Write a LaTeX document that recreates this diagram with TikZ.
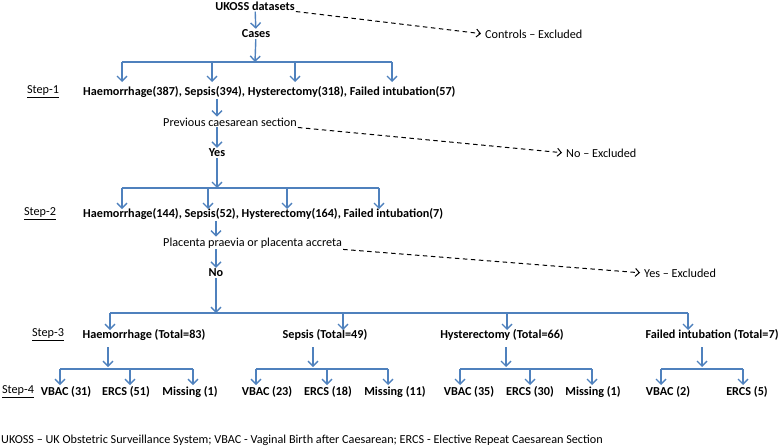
\documentclass[tikz,border=0pt]{standalone}
\usepackage{fontspec}
\setmainfont{Carlito}
\usetikzlibrary{arrows.meta}

\definecolor{flowblue}{RGB}{79,129,189}
\tikzset{
	txt/.style={inner sep=1pt, font=\fontsize{12.2}{14}\selectfont},
	bold/.style={inner sep=1pt, font=\fontsize{12.2}{14}\selectfont\bfseries},
	flow/.style={draw=flowblue, line width=1.4pt, -{Straight Barb[length=5pt,width=10pt]}},
	bar/.style={draw=flowblue, line width=1.4pt},
	excl/.style={draw=black, line width=1pt, dash pattern=on 4.5pt off 3.5pt, shorten >=3pt, -{Straight Barb[length=4pt,width=8pt]}}
}

\begin{document}
\begin{tikzpicture}[x=1pt,y=-1pt]
	\useasboundingbox (0,0) rectangle (782,447);
	
	% top of the chart
	\node[bold] (ukoss) at (255,6) {UKOSS datasets};
	\node[bold] (cases) at (256,34) {Cases};
	\node[txt,anchor=west] (controls) at (484,34) {Controls -- Excluded};
	\draw[flow] (ukoss) -- (cases);
	\draw[excl] (ukoss.south east) -- (controls.west);
	
	% step 1
	\node[txt] (step1) at (43,92) {\underline{Step-1}};
	\node[bold,anchor=west] (row1) at (82,92) {Haemorrhage(387), Sepsis(394), Hysterectomy(318), Failed intubation(57)};
	\coordinate (b1) at (255,62);
	\draw[flow] (cases) -- (b1);
	\draw[bar] (122,62) -- (392,62);
	\foreach \x in {122,212,295,392}
		\draw[flow] (\x,62) -- (\x,82);
	
	\node[txt,anchor=west] (prev) at (162,122) {Previous caesarean section};
	\node[bold] (yes) at (217,153) {Yes};
	\node[txt,anchor=west] (noex) at (565,153) {No -- Excluded};
	\draw[flow] (yes |- row1.south) -- (yes |- prev.north);
	\draw[flow] (yes |- prev.south) -- (yes);
	\draw[excl] (prev.south east) -- (noex.west);
	
	% step 2
	\node[txt] (step2) at (40,214) {\underline{Step-2}};
	\node[bold,anchor=west] (row2) at (82,214) {Haemorrhage(144), Sepsis(52), Hysterectomy(164), Failed intubation(7)};
	\coordinate (b2) at (217,188);
	\draw[flow] (yes) -- (b2);
	\draw[bar] (122,188) -- (379,188);
	\foreach \x in {122,208,287,379}
		\draw[flow] (\x,188) -- (\x,209);
	
	\node[txt,anchor=west] (place) at (162,243) {Placenta praevia or placenta accreta};
	\node[bold] (no) at (216,273) {No};
	\node[txt,anchor=west] (yesex) at (643,273) {Yes -- Excluded};
	\draw[flow] (no |- row2.south) -- (no |- place.north);
	\draw[flow] (no |- place.south) -- (no);
	\draw[excl] (place.south east) -- (yesex.west);
	
	% step 3
	\node[txt] (step3) at (48,335) {\underline{Step-3}};
	\node[bold] (haem) at (144,335) {Haemorrhage (Total=83)};
	\node[bold] (sepsis) at (325,335) {Sepsis (Total=49)};
	\node[bold] (hyst) at (502,335) {Hysterectomy (Total=66)};
	\node[bold] (failed) at (712,335) {Failed intubation (Total=7)};
	\coordinate (b3) at (216,313);
	\draw[flow] (no) -- (b3);
	\draw[bar] (110,313) -- (688,313);
	\foreach \x in {110,343,507,688}
		\draw[flow] (\x,313) -- (\x,330);
	
	% step 4
	\node[txt] (step4) at (18,392) {\underline{Step-4}};
	\node[bold] (hv) at (66,392) {VBAC (31)};
	\node[bold] (he) at (126,392) {ERCS (51)};
	\node[bold] (hm) at (190,392) {Missing (1)};
	\node[bold] (sv) at (267,392) {VBAC (23)};
	\node[bold] (se) at (328,392) {ERCS (18)};
	\node[bold] (sm) at (395,392) {Missing (11)};
	\node[bold] (yv) at (469,392) {VBAC (35)};
	\node[bold] (ye) at (530,392) {ERCS (30)};
	\node[bold] (ym) at (593,392) {Missing (1)};
	\node[bold] (fv) at (668,392) {VBAC (2)};
	\node[bold] (fe) at (747,392) {ERCS (5)};
	
	\draw[flow] (108,347) -- (108,367);
	\draw[bar] (60,369) -- (193,369);
	\foreach \x in {60,130,193}
		\draw[flow] (\x,369) -- (\x,385);
	
	\draw[flow] (313,347) -- (313,367);
	\draw[bar] (256,369) -- (388,369);
	\foreach \x in {256,327,388}
		\draw[flow] (\x,369) -- (\x,385);
	
	\draw[flow] (506,347) -- (506,367);
	\draw[bar] (460,369) -- (592,369);
	\foreach \x in {460,530,592}
		\draw[flow] (\x,369) -- (\x,385);
	
	\draw[flow] (702,347) -- (702,367);
	\draw[bar] (661,369) -- (743,369);
	\foreach \x in {661,743}
		\draw[flow] (\x,369) -- (\x,385);
	
	% abbreviations
	\node[txt,anchor=west] (foot) at (0,440) {UKOSS -- UK Obstetric Surveillance System; VBAC - Vaginal Birth after Caesarean; ERCS - Elective Repeat Caesarean Section};
	
\end{tikzpicture}
\end{document}
